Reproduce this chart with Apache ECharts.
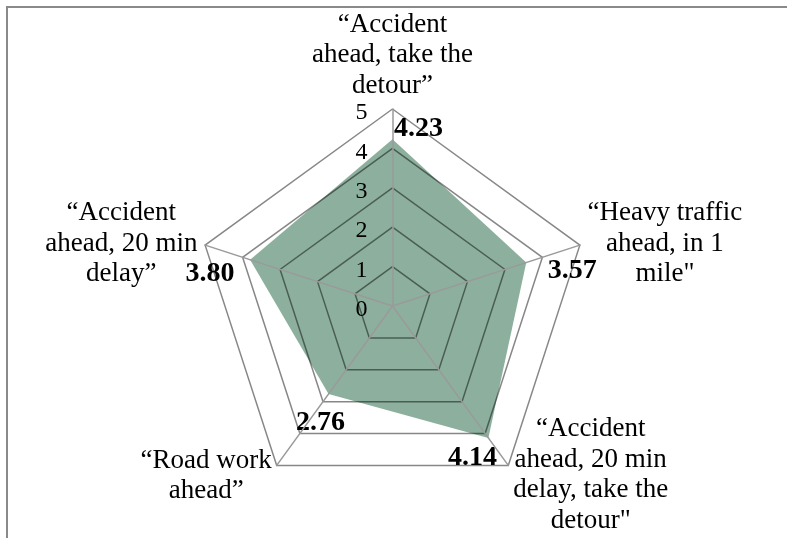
<!DOCTYPE html>
<html>
<head>
<meta charset="utf-8">
<script src="https://cdn.jsdelivr.net/npm/echarts@6/dist/echarts.min.js"></script>
<style>
  html, body { margin: 0; padding: 0; background: #fff; }
  #chart { width: 787px; height: 538px; }
</style>
</head>
<body>
<div id="chart"></div>
<script>
  // indicators listed counter-clockwise from the top, as the radar draws them
  const categories = [
    '“Accident\nahead, take the\ndetour”',
    '“Accident\nahead, 20 min\ndelay”',
    '“Road work\nahead”',
    '“Accident\nahead, 20 min\ndelay, take the\ndetour"',
    '“Heavy traffic\nahead, in 1\nmile"'
  ]
  const scores = [4.23, 3.80, 2.76, 4.14, 3.57]
  const tickLabels = [0, 1, 2, 3, 4, 5]

  const font = 'Liberation Serif'
  // where each value label sits relative to its vertex (dx, dy)
  const labelShift = [[26, -11], [-40, 14], [-8, 29], [-16, 20], [46, 8]]
  // nudges for the indicator names: [top pad of first line, right pad, left pad]
  const nameNudge = [[0, 0, 0], [0, 3, 0], [13, 2, 0], [11, 0, 2], [0, 0, 3]]
  const nameSize = 27
  const nameLine = 30.5

  const rich = {}
  labelShift.forEach((s, i) => {
    rich['v' + i] = {
      fontFamily: font,
      fontSize: 28,
      fontWeight: 'bold',
      color: '#000',
      padding: [
        s[1] > 0 ? 2 * s[1] : 0,
        s[0] < 0 ? -2 * s[0] : 0,
        s[1] < 0 ? -2 * s[1] : 0,
        s[0] > 0 ? 2 * s[0] : 0
      ]
    }
  })

  const nameRich = {}
  nameNudge.forEach((n, i) => {
    nameRich['f' + i] = {
      align: 'center', color: '#000', fontFamily: font, fontSize: nameSize,
      lineHeight: nameLine + n[0], padding: [n[0], n[1], 0, n[2]]
    }
    nameRich['n' + i] = {
      align: 'center', color: '#000', fontFamily: font, fontSize: nameSize,
      lineHeight: nameLine, padding: [0, n[1], 0, n[2]]
    }
  })

  const chart = echarts.init(document.getElementById('chart'))
  const option = {
    backgroundColor: '#fff',
    animation: false,
    graphic: [
      {
        type: 'rect',
        shape: { x: 7, y: 7, width: 800, height: 600 },
        style: { fill: 'none', stroke: '#8a8a8a', lineWidth: 2 }
      }
    ],
    radar: {
      z: 3,
      center: [392.5, 306],
      radius: 197,
      startAngle: 90,
      splitNumber: 5,
      shape: 'polygon',
      nameGap: 5,
      indicator: categories.map((name, i) => {
        const ind = { name: name, min: 0, max: tickLabels[tickLabels.length - 1] }
        if (i === 0) {
          ind.axisLabel = {
            show: true,
            margin: 25,
            formatter: v => (tickLabels.indexOf(v) >= 0 ? '{t|' + v + '}' : ''),
            rich: {
              t: { color: '#000', fontFamily: font, fontSize: 24, padding: [8, 0, 0, 0] }
            }
          }
        }
        return ind
      }),
      axisName: {
        color: '#000',
        fontFamily: font,
        fontSize: nameSize,
        lineHeight: nameLine,
        formatter: name => {
          const i = categories.indexOf(name)
          return name.split('\n').map((s, k) => '{' + (k === 0 ? 'f' : 'n') + i + '|' + s + '}').join('\n')
        },
        rich: nameRich
      },
      axisLabel: { show: false },
      axisTick: { show: false },
      axisLine: { lineStyle: { color: '#9a9a9a', width: 1.5 } },
      splitLine: { lineStyle: { color: 'rgba(0,0,0,0.47)', width: 1.5 } },
      splitArea: { show: false }
    },
    series: [
      {
        type: 'radar',
        symbol: 'circle',
        symbolSize: 1,
        itemStyle: { color: '#8db09e' },
        lineStyle: { width: 0 },
        areaStyle: { color: '#8db09e', opacity: 1 },
        label: {
          show: true,
          position: 'inside',
          formatter: p => {
            const i = scores.indexOf(p.value)
            return '{v' + i + '|' + p.value.toFixed(2) + '}'
          },
          rich: rich
        },
        data: [{ value: scores }]
      }
    ]
  }
  chart.setOption(option)
</script>
</body>
</html>
